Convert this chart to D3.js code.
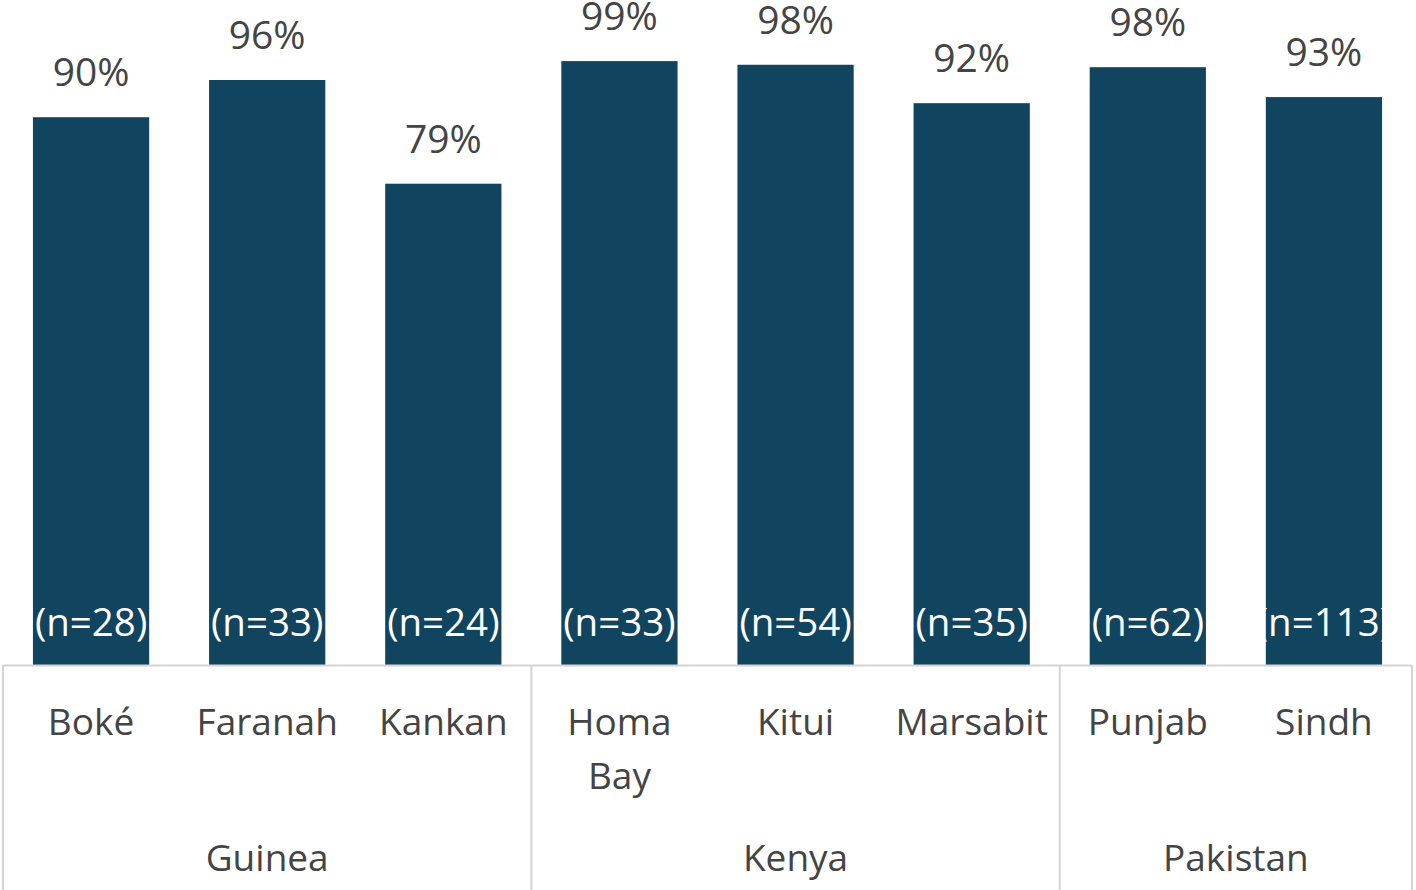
<!DOCTYPE html>
<html><head><meta charset="utf-8">
<script src="https://cdn.jsdelivr.net/npm/d3@7"></script>
<style>html,body{margin:0;padding:0;background:#fff;overflow:hidden}</style>
</head><body>
<svg id="c" width="1416" height="890"></svg>
<script>
const categories = ["Boké","Faranah","Kankan","Homa Bay","Kitui","Marsabit","Punjab","Sindh"];
const groups = ["Guinea","Guinea","Guinea","Kenya","Kenya","Kenya","Pakistan","Pakistan"];
const values = [89.8,95.9,78.9,99.0,98.4,92.1,98.0,93.1];
const valueLabels = ["90%","96%","79%","99%","98%","92%","98%","93%"];
const nLabels = ["(n=28)","(n=33)","(n=24)","(n=33)","(n=54)","(n=35)","(n=62)","(n=113)"];

const W = 1416, H = 890;
const left = 3, right = 1412, base = 665;
const svg = d3.select("#c");
const font = "'Open Sans', sans-serif";

const x = d3.scaleBand().domain(categories).range([left, right]).paddingInner(0.34).paddingOuter(0.17);
const y = d3.scaleLinear().domain([0, 100]).range([base, 55]);

const barColor = "#11445f";
const textColor = "#444444";
const lineColor = "#d4d4d4";

svg.selectAll("rect.bar").data(categories).join("rect")
  .attr("class","bar")
  .attr("x", d => x(d))
  .attr("width", x.bandwidth())
  .attr("y", (d,i) => y(values[i]))
  .attr("height", (d,i) => base - y(values[i]))
  .attr("fill", barColor);

svg.selectAll("text.val").data(categories).join("text")
  .attr("class","val")
  .attr("x", d => x(d) + x.bandwidth()/2)
  .attr("y", (d,i) => y(values[i]) - 31)
  .attr("text-anchor","middle")
  .attr("font-family", font).attr("font-size", 39)
  .attr("fill", textColor)
  .text((d,i) => valueLabels[i]);

svg.selectAll("text.n").data(categories).join("text")
  .attr("class","n")
  .attr("x", d => x(d) + x.bandwidth()/2)
  .attr("y", 636)
  .attr("text-anchor","middle")
  .attr("font-family", font).attr("font-size", 38.5)
  .attr("fill", "#ffffff")
  .text((d,i) => nLabels[i]);

const step = x.step();
const groupNames = Array.from(new Set(groups));
const groupSpans = groupNames.map(g => {
  const idx = groups.map((v,i)=>v===g?i:-1).filter(i=>i>=0);
  const x0 = left + idx[0]*step;
  const x1 = left + (idx[idx.length-1]+1)*step;
  return {g, x0, x1};
});
svg.append("line").attr("x1", left).attr("x2", right).attr("y1", base+0.5).attr("y2", base+0.5)
  .attr("stroke", lineColor).attr("stroke-width", 2);
const seps = [left, ...groupSpans.map(s => s.x1)];
svg.selectAll("line.sep").data(seps).join("line")
  .attr("class","sep")
  .attr("x1", d => Math.min(d, right)).attr("x2", d => Math.min(d, right))
  .attr("y1", base).attr("y2", H)
  .attr("stroke", lineColor).attr("stroke-width", 2);

svg.selectAll("text.cat").data(categories).join("text")
  .attr("class","cat")
  .attr("text-anchor","middle")
  .attr("font-family", font).attr("font-size", 37)
  .attr("fill", textColor)
  .each(function(d){
    const t = d3.select(this);
    const cx = x(d) + x.bandwidth()/2;
    d.split(" ").forEach((w,k) => {
      t.append("tspan").attr("x", cx).attr("y", 735 + k*54).text(w);
    });
  });

svg.selectAll("text.grp").data(groupSpans).join("text")
  .attr("class","grp")
  .attr("x", d => (d.x0 + Math.min(d.x1, right))/2)
  .attr("y", 871)
  .attr("text-anchor","middle")
  .attr("font-family", font).attr("font-size", 37)
  .attr("fill", textColor)
  .text(d => d.g);
</script>
</body></html>
